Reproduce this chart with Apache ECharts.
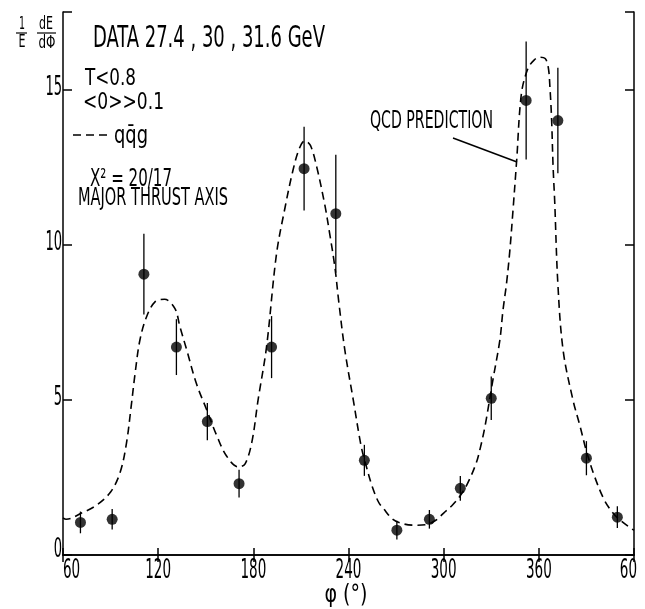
<!DOCTYPE html>
<html><head><meta charset="utf-8">
<script src="https://cdn.jsdelivr.net/npm/echarts@6/dist/echarts.min.js"></script>
<style>html,body{margin:0;padding:0;background:#fff}#c{width:645px;height:609px}</style>
</head><body><div id="c"></div>
<script>
// ---- data ----
const phiValues = [71, 91, 111, 131.5, 151, 171, 191.5, 212, 232, 250, 270.5, 291, 310.5, 330, 352, 372, 390, 409.5];
const dataValues = [1.05, 1.15, 9.05, 6.7, 4.3, 2.3, 6.7, 12.45, 11.0, 3.05, 0.8, 1.15, 2.15, 5.05, 14.65, 14.0, 3.12, 1.22];
const dataErrors = [0.35, 0.33, 1.3, 0.9, 0.6, 0.45, 1.0, 1.35, 1.9, 0.5, 0.3, 0.3, 0.4, 0.7, 1.9, 1.7, 0.55, 0.35];
const curvePhi = [60, 62, 72, 81, 90, 96, 100, 103, 105.5, 108.5, 112.7, 118, 124, 130.5, 133.7, 138, 144, 150.5, 157, 163, 170.5, 174.7, 179, 183, 188.3, 194.6, 200, 205, 209, 212.5, 216, 220, 225, 228, 231.4, 234, 237.7, 243, 248, 251, 255, 259, 262, 268, 275, 282, 289, 295, 300, 305, 310, 315, 320.5, 323, 326, 331, 335.4, 337.4, 339.6, 341.7, 343.7, 346, 349, 353, 357, 360.6, 364, 366, 367, 368, 369, 370, 372, 375.3, 381.5, 386, 390, 395, 401, 406, 410, 418, 420];
const curveValues = [1.2, 1.15, 1.36, 1.6, 2.03, 2.66, 3.6, 4.8, 5.87, 6.93, 7.68, 8.16, 8.24, 7.95, 7.36, 6.61, 5.54, 4.69, 3.84, 3.2, 2.84, 2.93, 3.62, 5.0, 6.7, 9.7, 11.2, 12.4, 13.1, 13.35, 13.2, 12.5, 11.3, 10.4, 9.28, 8.1, 6.6, 5.0, 3.5, 2.9, 2.2, 1.7, 1.5, 1.15, 1.0, 0.96, 0.98, 1.12, 1.35, 1.58, 1.88, 2.3, 2.96, 3.43, 4.13, 5.63, 6.92, 7.89, 8.74, 9.8, 11.1, 12.7, 14.86, 15.66, 15.95, 16.04, 16.0, 15.7, 15.07, 14.1, 12.5, 11.4, 8.74, 6.6, 5.0, 4.15, 3.35, 2.55, 1.8, 1.4, 1.18, 0.86, 0.8];
const xTickValues = [60, 120, 180, 240, 300, 360, 420];
const xTickLabels = ['60', '120', '180', '240', '300', '360', '60'];
const yTickValues = [0, 5, 10, 15];
const yTickLabels = ['0', '5', '10', '15'];

const F = "'Liberation Sans Narrow','DejaVu Sans Condensed',sans-serif";
const mctx = document.createElement('canvas').getContext('2d');
function fitText(s, x, y, width, size, align) {
  mctx.font = size + 'px ' + F;
  const w = mctx.measureText(s).width;
  return {
    type: 'text', x: x, y: y, scaleX: width / w, scaleY: 1, z: 100,
    style: { text: s, fontSize: size, fontFamily: F, fill: '#000',
      align: align || 'left', verticalAlign: 'middle', textAlign: align || 'left', textVerticalAlign: 'middle' }
  };
}
function seg(x1, y1, x2, y2, w, dash) {
  return { type: 'line', z: 100, shape: { x1, y1, x2, y2 },
    style: { stroke: '#000', lineWidth: w || 1.3, lineDash: dash || null } };
}

const chart = echarts.init(document.getElementById('c'), null, { renderer: 'canvas' });
const axisLineStyle = { color: '#000', width: 1.5 };
const option = {
  animation: false,
  backgroundColor: '#fff',
  grid: { left: 63, right: 11, top: 12, bottom: 54 },
  xAxis: [{
    type: 'value', min: 60, max: 420, interval: 60, position: 'bottom',
    axisLine: { lineStyle: axisLineStyle },
    axisTick: { inside: true, length: 7, lineStyle: axisLineStyle },
    axisLabel: { show: false },
    splitLine: { show: false }
  }, {
    type: 'value', min: 60, max: 420, interval: 60, position: 'top',
    axisLine: { lineStyle: axisLineStyle },
    axisTick: { inside: true, length: 7, lineStyle: axisLineStyle },
    axisLabel: { show: false }, splitLine: { show: false }
  }],
  yAxis: [{
    type: 'value', min: 0, max: 17.5, interval: 5, position: 'left',
    axisLine: { show: true, lineStyle: axisLineStyle },
    axisTick: { inside: true, length: 9, lineStyle: axisLineStyle },
    axisLabel: { show: false },
    splitLine: { show: false }
  }, {
    type: 'value', min: 0, max: 17.5, interval: 5, position: 'right',
    axisLine: { show: true, lineStyle: axisLineStyle },
    axisTick: { inside: true, length: 9, lineStyle: axisLineStyle },
    axisLabel: { show: false }, splitLine: { show: false }
  }],
  series: [{
    type: 'line', name: 'QCD prediction', xAxisIndex: 0, yAxisIndex: 0,
    data: curvePhi.map((p, i) => [p, curveValues[i]]),
    showSymbol: false, smooth: 0.35,
    lineStyle: { color: '#000', width: 1.6, type: [8, 5] }
  }, {
    type: 'custom', name: 'errors', xAxisIndex: 0, yAxisIndex: 0,
    data: phiValues.map((p, i) => [p, dataValues[i], dataErrors[i]]),
    renderItem: (params, api) => {
      const x = api.value(0), y = api.value(1), e = api.value(2);
      const a = api.coord([x, y + e]), b = api.coord([x, y - e]);
      return { type: 'line', shape: { x1: a[0], y1: a[1], x2: b[0], y2: b[1] },
        style: { stroke: '#000', lineWidth: 1.3 } };
    }
  }, {
    type: 'scatter', name: 'DATA', xAxisIndex: 0, yAxisIndex: 0,
    data: phiValues.map((p, i) => [p, dataValues[i]]),
    symbol: 'circle', symbolSize: 11,
    itemStyle: { color: '#000' }
  }]
};
chart.setOption(option);

// texts; tick labels in a condensed face, placed through the axis scales
const graphics = [
  fitText('DATA 27.4 , 30 , 31.6 GeV', 93, 39, 232, 31),
  fitText('T<0.8', 85, 79.5, 51, 23),
  fitText('<0>>0.1', 83, 103, 81, 23),
  seg(73, 135, 112, 135, 1.5, [8, 5]),
  fitText('qq\u0304g', 114, 136, 34, 25),
  fitText('X\u00B2 = 20/17', 90, 179, 82, 25),
  fitText('MAJOR THRUST AXIS', 78, 198.5, 150, 24),
  fitText('QCD PREDICTION', 370, 121.5, 123, 24),
  seg(453, 138, 517, 162, 1.5),
  fitText('\u03C6 (\u00B0)', 346, 596, 43, 24, 'center'),
  fitText('1', 22, 24.5, 6, 18, 'center'),
  seg(16, 33, 27, 33, 1.2),
  fitText('E', 22, 42.5, 7, 18, 'center'),
  fitText('dE', 46, 24.5, 14, 18, 'center'),
  seg(37, 33, 56, 33, 1.2),
  fitText('d\u03A6', 47, 43, 17, 18, 'center')
];
const xBase = chart.convertToPixel({ yAxisIndex: 0 }, 0);
xTickValues.forEach((v, i) => {
  const px = chart.convertToPixel({ xAxisIndex: 0 }, v);
  const s = xTickLabels[i];
  const w = s.length * 8.6;
  let align = 'center', x = px;
  if (i === 0) { align = 'left'; x = px; }
  if (i === xTickValues.length - 1) { align = 'right'; x = px + 3; }
  graphics.push(fitText(s, x, xBase + 16, w, 27, align));
});
const yLeft = chart.convertToPixel({ xAxisIndex: 0 }, 60);
yTickValues.forEach((v, i) => {
  const py = chart.convertToPixel({ yAxisIndex: 0 }, v);
  const s = yTickLabels[i];
  const w = s.length * 8.3;
  graphics.push(fitText(s, yLeft - 1, py - (v === 0 ? 5 : 2), w, 27, 'right'));
});
chart.setOption({ graphic: graphics });
</script>
</body></html>
